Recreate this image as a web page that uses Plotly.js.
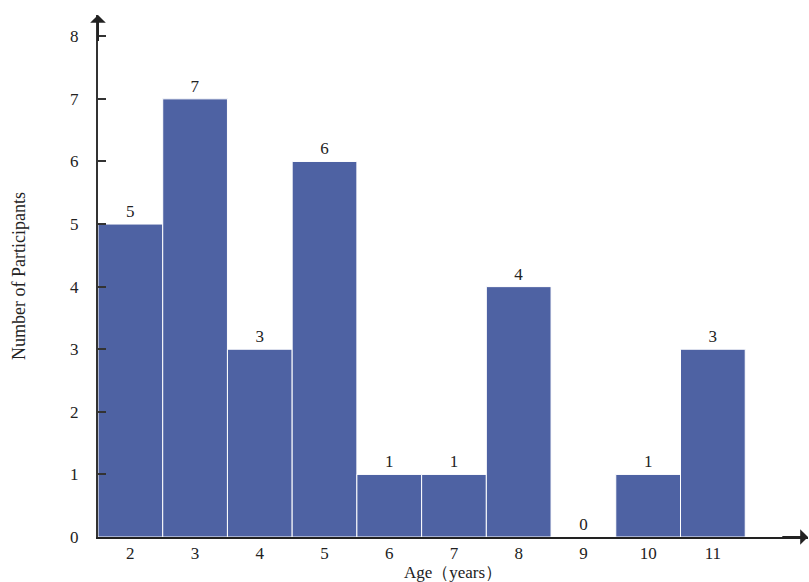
<!DOCTYPE html>
<html><head><meta charset="utf-8">
<script src="https://cdn.plot.ly/plotly-3.0.1.min.js"></script>
<style>body{margin:0;background:#fff}#c{width:809px;height:582px}</style>
</head><body><div id="c"></div>
<script>
const ages = [2,3,4,5,6,7,8,9,10,11];
const counts = [5,7,3,6,1,1,4,0,1,3];
const tickVals = [0,1,2,3,4,5,6,7,8];
const xTitle = 'Age（years）';
const yTitle = 'Number of Participants';

const serif = 'Liberation Serif, Times New Roman, serif';
const trace = {
  type:'bar', x:ages, y:counts,
  text:counts.map(String), textposition:'outside', cliponaxis:false,
  textfont:{family:serif,size:17,color:'#222'},
  marker:{color:'#4e62a3', line:{color:'#ffffff', width:1}},
  hoverinfo:'none'
};
const layout = {
  width:809, height:582,
  margin:{l:98, r:1, t:15, b:45},
  paper_bgcolor:'#fff', plot_bgcolor:'#fff',
  bargap:0, showlegend:false,
  font:{family:serif, color:'#222', size:17},
  xaxis:{range:[1.5,12.47], tickvals:ages, ticks:'', showgrid:false, zeroline:false,
    showline:true, linecolor:'#222', linewidth:2,
    tickfont:{family:serif,size:17,color:'#222'},
    title:{text:xTitle, font:{family:serif,size:17,color:'#222'}, standoff:5}},
  yaxis:{range:[0,8.34], tickvals:tickVals, ticks:'inside', ticklen:8, tickwidth:2, tickcolor:'#333',
    showgrid:false, zeroline:false, showline:true, linecolor:'#333', linewidth:2,
    ticklabelstandoff:14,
    tickfont:{family:serif,size:17,color:'#222'},
    title:{text:yTitle, font:{family:serif,size:18,color:'#222'}, standoff:40}},
  annotations:[
    {xref:'x',yref:'y',axref:'x',ayref:'y',x:1.5,y:8.34,ax:1.5,ay:7.9,text:'',showarrow:true,arrowhead:1,arrowsize:1.3,arrowwidth:2,arrowcolor:'#222'},
    {xref:'x',yref:'y',axref:'x',ayref:'y',x:12.47,y:0,ax:12.05,ay:0,text:'',showarrow:true,arrowhead:1,arrowsize:1.3,arrowwidth:2,arrowcolor:'#222'}
  ]
};
Plotly.newPlot('c',[trace],layout,{displayModeBar:false,staticPlot:true});
</script></body></html>
